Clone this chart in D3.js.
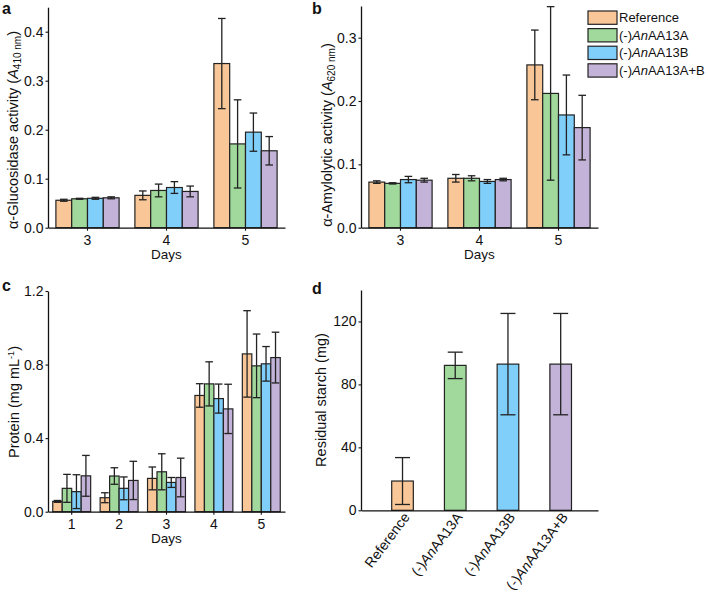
<!DOCTYPE html>
<html>
<head>
<meta charset="utf-8">
<script src="https://cdn.jsdelivr.net/npm/d3@7"></script>
<style>
  html, body { margin: 0; padding: 0; background: #fff; }
  svg { display: block; font-family: "Liberation Sans", Arial, Helvetica, sans-serif; }
</style>
</head>
<body>
<svg id="chart" width="708" height="593"></svg>
<script>
// ---------------- DATA ----------------
const groups = ["Reference", "(-)AnAA13A", "(-)AnAA13B", "(-)AnAA13A+B"];
const colors = ["#F9C797", "#A0D99B", "#80CFFB", "#C3B3D8"];

const daysAB = ["3", "4", "5"];
const glucMean = [[0.056, 0.059, 0.060, 0.061], [0.066, 0.076, 0.082, 0.074], [0.335, 0.171, 0.195, 0.157]];
const glucErr  = [[0.002, 0.001, 0.002, 0.002], [0.009, 0.013, 0.012, 0.011], [0.092, 0.090, 0.039, 0.029]];
const glucTicks = [0, 0.1, 0.2, 0.3, 0.4];

const amylMean = [[0.072, 0.070, 0.076, 0.075], [0.078, 0.078, 0.073, 0.076], [0.257, 0.212, 0.178, 0.158]];
const amylErr  = [[0.002, 0.001, 0.005, 0.003], [0.006, 0.004, 0.003, 0.002], [0.055, 0.137, 0.063, 0.051]];
const amylTicks = [0, 0.1, 0.2, 0.3];

const daysC = ["1", "2", "3", "4", "5"];
const protMean = [[0.056, 0.127, 0.109, 0.195], [0.076, 0.194, 0.127, 0.170], [0.181, 0.217, 0.159, 0.186],
                  [0.632, 0.695, 0.615, 0.559], [0.858, 0.793, 0.804, 0.838]];
const protErr  = [[0.005, 0.076, 0.092, 0.111], [0.027, 0.045, 0.062, 0.104], [0.062, 0.098, 0.027, 0.105],
                  [0.064, 0.120, 0.079, 0.134], [0.235, 0.173, 0.094, 0.138]];
const protTicks = [0, 0.4, 0.8, 1.2];

const starchMean = [18.6, 92.1, 92.9, 92.9];
const starchErr  = [14.9, 8.4, 32.2, 32.2];
const starchTicks = [0, 40, 80, 120];

// ---------------- DRAW ----------------
const svg = d3.select("#chart");
svg.append("rect").attr("width", 708).attr("height", 593).attr("fill", "#fff");

function styleAxis(g) {
  g.selectAll("path.domain").attr("stroke", "#111").attr("stroke-width", 1.3);
  g.selectAll(".tick line").attr("stroke", "#111").attr("stroke-width", 1.1);
  g.selectAll(".tick text").attr("fill", "#111").style("font-size", "14px")
    .style("font-family", "'Liberation Sans', Arial, sans-serif");
}

function grouped(cfg) {
  const x0 = d3.scaleBand().domain(cfg.cats).range(cfg.xr).paddingInner(0.2).paddingOuter(0.1);
  const x1 = d3.scaleBand().domain(groups).range([0, x0.bandwidth()]);
  const y = d3.scaleLinear().domain(cfg.yd).range(cfg.yr);
  const g = svg.append("g");

  cfg.cats.forEach((c, i) => {
    groups.forEach((s, j) => {
      const m = cfg.mean[i][j];
      const bx = x0(c) + x1(s);
      g.append("rect")
        .attr("x", bx).attr("y", y(m))
        .attr("width", x1.bandwidth()).attr("height", y(0) - y(m))
        .attr("fill", colors[j]).attr("stroke", "#222").attr("stroke-width", 1.2);
    });
  });
  cfg.cats.forEach((c, i) => {
    groups.forEach((s, j) => {
      const m = cfg.mean[i][j], e = cfg.err[i][j];
      const cx = x0(c) + x1(s) + x1.bandwidth() / 2;
      const cw = 3.8;
      const eg = g.append("g").attr("stroke", "#222").attr("stroke-width", 1.3);
      eg.append("line").attr("x1", cx).attr("x2", cx).attr("y1", y(m + e)).attr("y2", y(m - e));
      eg.append("line").attr("x1", cx - cw).attr("x2", cx + cw).attr("y1", y(m + e)).attr("y2", y(m + e));
      eg.append("line").attr("x1", cx - cw).attr("x2", cx + cw).attr("y1", y(m - e)).attr("y2", y(m - e));
    });
  });

  const ya = svg.append("g").attr("transform", `translate(${cfg.xr[0]},0)`)
    .call(d3.axisLeft(y).tickValues(cfg.ticks).tickFormat(cfg.fmt).tickSize(2.5).tickSizeOuter(0).tickPadding(2));
  styleAxis(ya);
  const xa = svg.append("g").attr("transform", `translate(0,${cfg.yr[0]})`)
    .call(d3.axisBottom(x0).tickSize(3).tickSizeOuter(0).tickPadding(4));
  styleAxis(xa);

  svg.append("text").attr("x", (cfg.xr[0] + cfg.xr[1]) / 2).attr("y", cfg.yr[0] + 27)
    .attr("dy", "0.35em").attr("text-anchor", "middle").style("font-size", "13.5px").attr("fill", "#111")
    .text("Days");
  return y;
}

function letter(t, x, y) {
  svg.append("text").attr("x", x).attr("y", y).style("font-size", "16px").style("font-weight", "bold")
    .attr("fill", "#111").text(t);
}

function ylabel(x, y, parts) {
  const t = svg.append("text").attr("transform", `translate(${x},${y}) rotate(-90)`)
    .attr("text-anchor", "middle").attr("dy", "0.35em").style("font-size", "14.5px").attr("fill", "#111");
  parts.forEach(p => {
    const ts = t.append("tspan").text(p.t);
    if (p.i) ts.style("font-style", "italic");
    if (p.fs) ts.style("font-size", p.fs + "px");
    if (p.dy) ts.attr("dy", p.dy);
  });
}

// Panel a
grouped({ cats: daysAB, mean: glucMean, err: glucErr, xr: [48, 285], yd: [0, 0.45], yr: [227.7, 7.2],
          ticks: glucTicks, fmt: d3.format(".1f") });
letter("a", 2, 14);
ylabel(13, 130, [{ t: "α-Glucosidase activity (" }, { t: "A", i: true },
                 { t: "410 nm", fs: 10, dy: 3 }, { t: ")", dy: -3 }]);

// Panel b
grouped({ cats: daysAB, mean: amylMean, err: amylErr, xr: [361, 598], yd: [0, 0.35], yr: [227.7, 6],
          ticks: amylTicks, fmt: d3.format(".1f") });
letter("b", 312, 14);
ylabel(327, 135, [{ t: "α-Amylolytic activity (" }, { t: "A", i: true },
                  { t: "620 nm", fs: 10, dy: 3 }, { t: ")", dy: -3 }]);

// Panel c
grouped({ cats: daysC, mean: protMean, err: protErr, xr: [48, 285], yd: [0, 1.2], yr: [511.7, 291],
          ticks: protTicks, fmt: d3.format(".1f") });
letter("c", 2, 291);
ylabel(14, 402, [{ t: "Protein (mg mL" }, { t: "-1", fs: 9, dy: -5 }, { t: ")", dy: 5 }]);

// Panel d
{
  const x = d3.scaleBand().domain(groups).range([376.15, 587.05]).paddingInner(0.59).paddingOuter(0.295);
  const y = d3.scaleLinear().domain([0, 140]).range([510.3, 290]);
  const g = svg.append("g");
  groups.forEach((s, j) => {
    g.append("rect").attr("x", x(s)).attr("y", y(starchMean[j]))
      .attr("width", x.bandwidth()).attr("height", y(0) - y(starchMean[j]))
      .attr("fill", colors[j]).attr("stroke", "#222").attr("stroke-width", 1.2);
  });
  groups.forEach((s, j) => {
    const m = starchMean[j], e = starchErr[j];
    const cx = x(s) + x.bandwidth() / 2, cw = 7.5;
    const eg = g.append("g").attr("stroke", "#222").attr("stroke-width", 1.3);
    eg.append("line").attr("x1", cx).attr("x2", cx).attr("y1", y(m + e)).attr("y2", y(m - e));
    eg.append("line").attr("x1", cx - cw).attr("x2", cx + cw).attr("y1", y(m + e)).attr("y2", y(m + e));
    eg.append("line").attr("x1", cx - cw).attr("x2", cx + cw).attr("y1", y(m - e)).attr("y2", y(m - e));
  });
  const ya = svg.append("g").attr("transform", "translate(361,0)")
    .call(d3.axisLeft(y).tickValues(starchTicks).tickSize(2.5).tickSizeOuter(0).tickPadding(2));
  styleAxis(ya);
  const xa = svg.append("g").attr("transform", `translate(0,${y(0)})`)
    .call(d3.axisBottom(d3.scaleLinear().domain([0, 1]).range([361, 598])).tickValues([]).tickSizeOuter(0));
  styleAxis(xa);
  groups.forEach((s, j) => {
    const cx = x(s) + x.bandwidth() / 2;
    const t = svg.append("text").attr("transform", `translate(${cx + 4},${y(0) + 4}) rotate(-53)`)
      .attr("text-anchor", "end").attr("dy", "0.35em").style("font-size", "14px").attr("fill", "#111");
    if (j === 0) t.text(s);
    else {
      t.append("tspan").text("(-)");
      t.append("tspan").style("font-style", "italic").text("An");
      t.append("tspan").text(s.slice(5));
    }
  });
  letter("d", 312, 294);
  ylabel(321, 400, [{ t: "Residual starch (mg)" }]);
}

// Legend
{
  const lg = svg.append("g").attr("transform", "translate(588,11)");
  groups.forEach((s, j) => {
    const r = lg.append("g").attr("transform", `translate(0,${j * 17.6})`);
    r.append("rect").attr("width", 29).attr("height", 13.3).attr("fill", colors[j])
      .attr("stroke", "#222").attr("stroke-width", 1.2);
    const t = r.append("text").attr("x", 31).attr("y", 6.7).attr("dy", "0.35em")
      .style("font-size", "13px").attr("fill", "#111");
    if (j === 0) t.text(s);
    else {
      t.append("tspan").text("(-)");
      t.append("tspan").style("font-style", "italic").text("An");
      t.append("tspan").text(s.slice(5));
    }
  });
}
</script>
</body>
</html>
